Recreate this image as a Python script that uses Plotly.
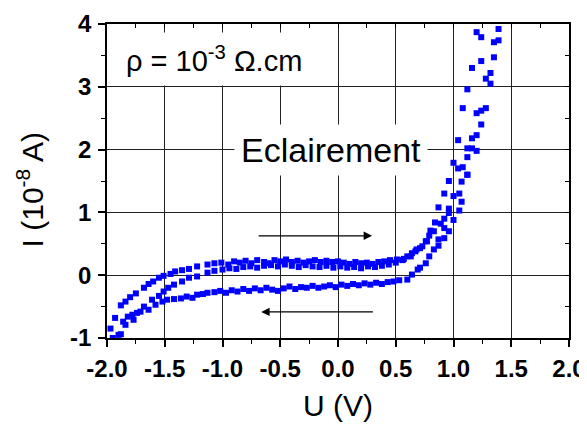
import plotly.graph_objects as go

# Branche supérieure (balayage aller)
u_aller = [-1.88, -1.84, -1.80, -1.75, -1.68, -1.64, -1.60, -1.55, -1.51, -1.45, -1.41, -1.35, -1.29, -1.22,
           -1.13, -1.07, -1.01, -0.95, -0.90, -0.85, -0.80, -0.75, -0.70, -0.64, -0.60, -0.55, -0.50, -0.45,
           -0.40, -0.35, -0.30, -0.25, -0.20, -0.15, -0.10, -0.05, 0.00, 0.05, 0.10, 0.15, 0.20, 0.25, 0.30,
           0.35, 0.40, 0.45, 0.51, 0.57, 0.63, 0.67, 0.71, 0.76, 0.80, 0.84, 0.87, 0.92, 0.96, 1.00]
i_aller = [-0.48, -0.42, -0.35, -0.29, -0.20, -0.14, -0.10, -0.04, -0.01, 0.02, 0.06, 0.08, 0.10, 0.14,
           0.17, 0.19, 0.20, 0.17, 0.22, 0.20, 0.23, 0.19, 0.24, 0.21, 0.19, 0.24, 0.22, 0.25,
           0.21, 0.23, 0.20, 0.22, 0.24, 0.21, 0.23, 0.21, 0.22, 0.20, 0.18, 0.21, 0.19, 0.20, 0.18,
           0.21, 0.22, 0.24, 0.25, 0.26, 0.30, 0.38, 0.43, 0.54, 0.71, 0.84, 1.08, 1.30, 1.50, 1.79]

# Deuxième cycle (branche intermédiaire)
u_cycle2 = [-1.93, -1.86, -1.82, -1.78, -1.74, -1.68, -1.61, -1.55, -1.51, -1.47, -1.42, -1.35, -1.29, -1.22,
            -1.13, -1.07, -1.00, -0.94, -0.88, -0.82, -0.76, -0.70, -0.64, -0.58, -0.52, -0.46, -0.40, -0.34,
            -0.28, -0.22, -0.16, -0.10, -0.04, 0.02, 0.08, 0.14, 0.20, 0.26, 0.32, 0.38, 0.44, 0.50, 0.56,
            0.60, 0.64, 0.68, 0.73, 0.77, 0.79, 0.83, 0.89, 0.92, 0.96, 1.00, 1.05, 1.07, 1.12]
i_cycle2 = [-0.68, -0.74, -0.66, -0.63, -0.60, -0.50, -0.39, -0.33, -0.26, -0.20, -0.15, -0.10, -0.04, -0.02,
            0.04, 0.07, 0.09, 0.11, 0.10, 0.13, 0.14, 0.12, 0.15, 0.16, 0.14, 0.17, 0.15, 0.13,
            0.16, 0.14, 0.13, 0.15, 0.12, 0.14, 0.12, 0.13, 0.11, 0.14, 0.13, 0.15, 0.17, 0.20, 0.24,
            0.30, 0.35, 0.41, 0.46, 0.54, 0.63, 0.70, 0.82, 0.90, 1.06, 1.26, 1.30, 1.49, 1.60]

# Branche inférieure (balayage retour)
u_retour = [-1.97, -1.95, -1.90, -1.88, -1.84, -1.77, -1.71, -1.64, -1.58, -1.52, -1.48, -1.42, -1.36, -1.31,
            -1.26, -1.22, -1.17, -1.13, -1.07, -1.02, -0.97, -0.92, -0.87, -0.82, -0.77, -0.72, -0.67, -0.62,
            -0.57, -0.52, -0.47, -0.42, -0.37, -0.32, -0.27, -0.22, -0.17, -0.12, -0.07, -0.02, 0.03, 0.08,
            0.13, 0.18, 0.23, 0.28, 0.33, 0.38, 0.43, 0.48, 0.53, 0.60, 0.64, 0.69, 0.71, 0.76, 0.79, 0.83,
            0.87, 0.87, 0.92, 0.96, 0.92, 0.96, 1.00, 1.05, 1.07]
i_retour = [-0.85, -1.00, -0.95, -0.94, -0.79, -0.71, -0.58, -0.55, -0.47, -0.42, -0.39, -0.38, -0.37, -0.34,
            -0.36, -0.31, -0.30, -0.28, -0.27, -0.25, -0.28, -0.24, -0.26, -0.22, -0.25, -0.21, -0.24, -0.20,
            -0.23, -0.25, -0.21, -0.18, -0.22, -0.19, -0.20, -0.17, -0.20, -0.18, -0.16, -0.19, -0.15, -0.17,
            -0.14, -0.16, -0.13, -0.15, -0.12, -0.14, -0.11, -0.10, -0.08, -0.07, 0.01, 0.09, 0.12, 0.19, 0.30,
            0.41, 0.47, 0.57, 0.59, 0.70, 0.75, 0.99, 0.88, 1.03, 1.17]

# Partie haute (forte croissance)
u_haut = [1.04, 1.08, 1.12, 1.16, 1.20, 1.24, 1.08, 1.12, 1.16, 1.20, 1.20, 1.24, 1.20, 1.24, 1.28, 1.32,
          1.28, 1.32, 1.24, 1.35, 1.35, 1.39, 1.39, 1.04, 1.12, 1.16, 1.12]
i_haut = [2.15, 2.66, 2.96, 3.30, 3.87, 3.79, 1.72, 1.88, 2.02, 1.98, 2.23, 2.40, 2.58, 2.62, 2.66, 3.05,
          3.13, 3.22, 3.41, 3.47, 3.71, 3.74, 3.92, 1.70, 2.02, 2.18, 1.60]

x_ticks = [-2.0, -1.5, -1.0, -0.5, 0.0, 0.5, 1.0, 1.5, 2.0]
y_ticks = [-1, 0, 1, 2, 3, 4]

BLUE = "#0000FF"
fig = go.Figure()
for u, i in [(u_aller, i_aller), (u_cycle2, i_cycle2), (u_retour, i_retour), (u_haut, i_haut)]:
    fig.add_trace(go.Scatter(x=u, y=i, mode="markers",
                             marker=dict(symbol="square", size=6, color=BLUE, line=dict(width=0)),
                             showlegend=False, cliponaxis=True))
# invisible trace to show the mirrored (top/right) inner ticks
fig.add_trace(go.Scatter(x=[None], y=[None], xaxis="x2", yaxis="y2", mode="markers",
                         showlegend=False, hoverinfo="skip"))

tickfont = dict(family="Liberation Sans, Arial", size=24, color="black", weight="bold")
common = dict(ticks="outside", ticklen=7, tickwidth=1.5, tickcolor="black",
              showline=True, linewidth=1.5, linecolor="black", mirror=True,
              showgrid=True, gridcolor="#222", gridwidth=1, zeroline=False,
              tickfont=tickfont, automargin=False)
fig.update_xaxes(range=[-2, 2], tickvals=x_ticks, ticktext=[f"{v:.1f}" for v in x_ticks],
                 ticklabelstandoff=1,
                 minor=dict(dtick=0.25, tick0=0, ticks="outside", ticklen=4, tickwidth=1.2,
                            tickcolor="black", showgrid=False), **common)
fig.update_yaxes(range=[-1, 4], tickvals=y_ticks, ticktext=[str(v) for v in y_ticks],
                 ticklabelstandoff=2,
                 minor=dict(dtick=0.5, tick0=0, ticks="outside", ticklen=4, tickwidth=1.2,
                            tickcolor="black", showgrid=False), **common)

annots = [
    dict(x=-1.07, y=3.45, xref="x", yref="y", text="ρ = 10<sup>-3</sup> Ω.cm", showarrow=False,
         font=dict(family="Liberation Sans, Arial", size=29, color="black"),
         bgcolor="white", borderpad=8),
    dict(x=-0.06, y=1.99, xref="x", yref="y", text="Eclairement", showarrow=False,
         font=dict(family="Liberation Sans, Arial", size=34, color="black"),
         bgcolor="white", borderpad=6),
    dict(x=0.295, y=0.627, ax=-0.70, ay=0.627, xref="x", yref="y", axref="x", ayref="y",
         text="", showarrow=True, arrowhead=2, arrowsize=1.3, arrowwidth=1.3, arrowcolor="black"),
    dict(x=-0.665, y=-0.584, ax=0.315, ay=-0.584, xref="x", yref="y", axref="x", ayref="y",
         text="", showarrow=True, arrowhead=2, arrowsize=1.3, arrowwidth=1.3, arrowcolor="black"),
    dict(x=0.50, y=-0.215, xref="paper", yref="paper", text="U (V)", showarrow=False,
         font=dict(family="Liberation Sans, Arial", size=30, color="black"), yanchor="middle"),
    dict(x=-0.166, y=0.471, xref="paper", yref="paper", text="I (10<sup>-8</sup> A)", showarrow=False,
         textangle=-90, font=dict(family="Liberation Sans, Arial", size=30, color="black"),
         xanchor="center", yanchor="middle"),
]
# The page body has an 8px margin: the figure is offset accordingly
fig.update_layout(width=579, height=420, margin=dict(l=98.5, r=18.3, t=15.5, b=89.5),
                  plot_bgcolor="white", paper_bgcolor="white", annotations=annots,
                  xaxis2=dict(overlaying="x", side="top", range=[-2, 2], dtick=0.25, tick0=0,
                              ticks="inside", ticklen=4, tickwidth=1, tickcolor="black",
                              showticklabels=False, showgrid=False, zeroline=False, automargin=False),
                  yaxis2=dict(overlaying="y", side="right", range=[-1, 4], dtick=0.5, tick0=0,
                              ticks="inside", ticklen=4, tickwidth=1, tickcolor="black",
                              showticklabels=False, showgrid=False, zeroline=False, automargin=False))
fig.write_html("out.html")
